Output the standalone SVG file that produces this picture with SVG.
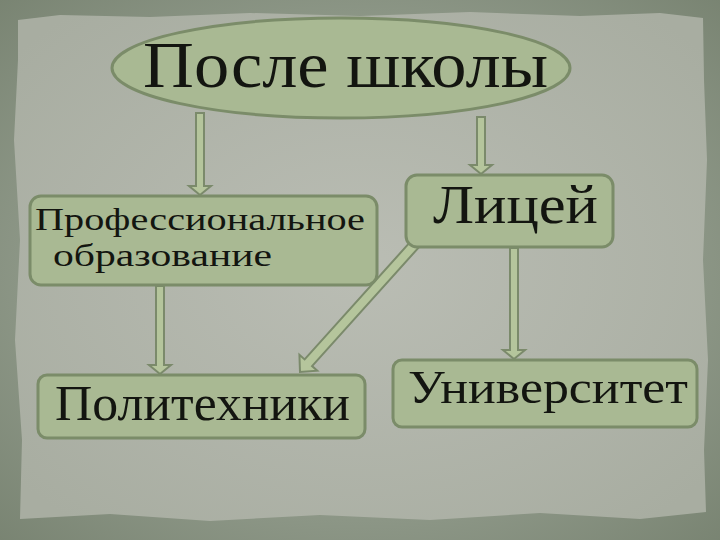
<svg xmlns="http://www.w3.org/2000/svg" width="720" height="540" viewBox="0 0 720 540">
  <defs>
    <radialGradient id="paper" cx="50%" cy="50%" r="65%">
      <stop offset="0%" stop-color="#babdb4"/>
      <stop offset="100%" stop-color="#a8ada1"/>
    </radialGradient>
    <radialGradient id="frame" cx="50%" cy="50%" r="75%">
      <stop offset="60%" stop-color="#8d9787"/>
      <stop offset="100%" stop-color="#76816f"/>
    </radialGradient>
  </defs>
  <style>
    .node { fill: #a9b993; stroke: #7b8c69; stroke-width: 3; }
    .arrow { fill: #b5c59c; stroke: #7b8a6b; stroke-width: 2; stroke-linejoin: miter; }
    .lbl { font-family: "Liberation Serif", "Times New Roman", serif; fill: #131510; }
  </style>
  <rect x="0" y="0" width="720" height="540" fill="url(#frame)"/>
  <path d="M18,20 L60,15 L150,17 L250,13 L360,16 L470,12 L580,16 L660,13 L703,18 L704,80 L707,160 L703,260 L708,360 L704,450 L706,512 L640,519 L540,513 L430,520 L320,515 L210,521 L110,514 L20,519 L22,440 L15,340 L20,240 L14,140 L18,60 Z" fill="url(#paper)"/>

  <g id="connectors">
    <polygon class="arrow" points="196,113 204,113 204,186 211,186 200,195 189,186 196,186"/>
    <polygon class="arrow" points="477,117 485,117 485,165 492,165 481,174 470,165 477,165"/>
    <polygon class="arrow" points="156,286 164,286 164,365 171,365 160,374 149,365 156,365"/>
    <polygon class="arrow" points="510,248 518,248 518,350 525,350 514,359 503,350 510,350"/>
    <polygon class="arrow" transform="translate(416,243) rotate(131.96)" points="0,-5 161,-5 161,-12 173.5,0 161,12 161,5 0,5"/>
  </g>

  <g id="node-posle">
    <ellipse class="node" cx="341" cy="68" rx="229" ry="50"/>
    <text class="lbl" transform="translate(143,87) scale(1,1.1)" font-size="60" textLength="405" lengthAdjust="spacingAndGlyphs">После школы</text>
  </g>

  <g id="node-prof">
    <rect class="node" x="30" y="196" width="347" height="89" rx="11"/>
    <text class="lbl" transform="translate(35,230) scale(1,1.08)" font-size="30" textLength="330" lengthAdjust="spacingAndGlyphs">Профессиональное</text>
    <text class="lbl" transform="translate(53,266) scale(1,1.08)" font-size="30" textLength="219" lengthAdjust="spacingAndGlyphs">образование</text>
  </g>

  <g id="node-licey">
    <rect class="node" x="406" y="175" width="207" height="72" rx="11"/>
    <text class="lbl" transform="translate(433,223) scale(1,1.1)" font-size="50" textLength="165" lengthAdjust="spacingAndGlyphs">Лицей</text>
  </g>

  <g id="node-politeh">
    <rect class="node" x="38" y="375" width="327" height="63" rx="9"/>
    <text class="lbl" transform="translate(55,420) scale(1,1.1)" font-size="46" textLength="295" lengthAdjust="spacingAndGlyphs">Политехники</text>
  </g>

  <g id="node-univ">
    <rect class="node" x="393" y="360" width="304" height="67" rx="9"/>
    <text class="lbl" transform="translate(408,403) scale(1,1.1)" font-size="43" textLength="280" lengthAdjust="spacingAndGlyphs">Университет</text>
  </g>
</svg>
